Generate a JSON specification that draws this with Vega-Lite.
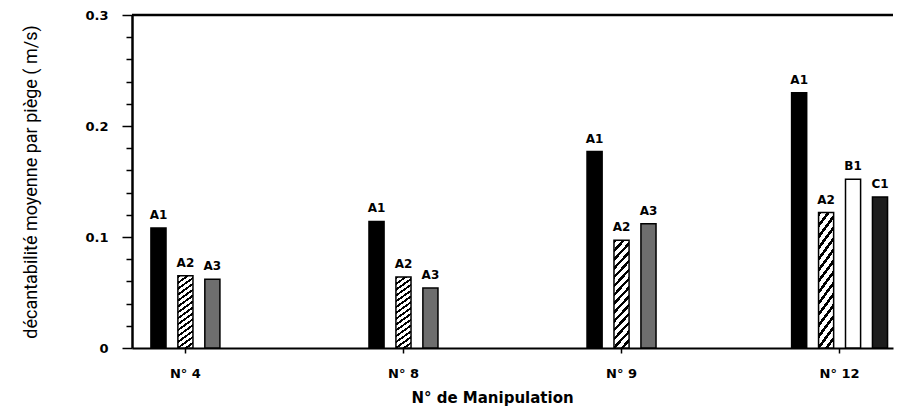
{
  "$schema": "https://vega.github.io/schema/vega-lite/v6.json",
  "width": 761,
  "height": 333,
  "autosize": "none",
  "padding": {"left": 132, "top": 15, "right": 5, "bottom": 59},
  "background": "white",
  "config": {"view": {"stroke": null}, "font": "DejaVu Sans"},
  "data": {
    "values": [
      {"manip": "N° 4", "barre": "A1", "v": 0.108},
      {"manip": "N° 4", "barre": "A2", "v": 0.065},
      {"manip": "N° 4", "barre": "A3", "v": 0.062},
      {"manip": "N° 8", "barre": "A1", "v": 0.114},
      {"manip": "N° 8", "barre": "A2", "v": 0.064},
      {"manip": "N° 8", "barre": "A3", "v": 0.054},
      {"manip": "N° 9", "barre": "A1", "v": 0.177},
      {"manip": "N° 9", "barre": "A2", "v": 0.097},
      {"manip": "N° 9", "barre": "A3", "v": 0.112},
      {"manip": "N° 12", "barre": "A1", "v": 0.23},
      {"manip": "N° 12", "barre": "A2", "v": 0.122},
      {"manip": "N° 12", "barre": "B1", "v": 0.152},
      {"manip": "N° 12", "barre": "C1", "v": 0.136}
    ]
  },
  "encoding": {
    "y": {
      "field": "v", "type": "quantitative",
      "scale": {"domain": [0, 0.3], "nice": false, "zero": true},
      "axis": {
        "values": [0, 0.02, 0.04, 0.06, 0.08, 0.1, 0.12, 0.14, 0.16, 0.18, 0.2, 0.22, 0.24, 0.26, 0.28, 0.3],
        "labelExpr": "abs(datum.value*10 - round(datum.value*10)) < 0.001 ? (datum.value == 0 ? '0' : format(datum.value, '.1f')) : ''",
        "tickSize": {"condition": {"test": "abs(datum.value*10 - round(datum.value*10)) < 0.001", "value": 10}, "value": 6},
        "tickWidth": 1.5, "tickColor": "black",
        "domainWidth": 2.5, "domainColor": "black", "grid": false,
        "labelFont": "DejaVu Sans", "labelFontWeight": "bold", "labelFontSize": 13, "labelColor": "black",
        "labelPadding": 14, "labelOverlap": false,
        "title": "décantabilité moyenne par piège ( m/s)",
        "titleFont": "Roboto", "titleFontSize": 18, "titleFontWeight": "normal", "titleColor": "black", "titleLimit": 1000,
        "titlePadding": 44
      }
    }
  },
  "layer": [
    {
      "transform": [{"joinaggregate": [{"op": "count", "as": "nb"}], "groupby": ["manip"]}],
      "encoding": {
        "x": {
          "field": "manip", "type": "nominal", "sort": null,
          "scale": {"paddingInner": 0.56, "paddingOuter": 0.025},
          "axis": {
            "title": "N°  de  Manipulation",
            "titleFont": "DejaVu Sans", "titleFontSize": 15, "titleFontWeight": "bold", "titleColor": "black",
            "titleX": 360, "titleY": 54, "titleBaseline": "alphabetic", "titleAlign": "center",
            "labelAngle": 0, "labelFont": "DejaVu Sans", "labelFontSize": 13, "labelFontWeight": "bold", "labelColor": "black",
            "labelBaseline": "alphabetic", "labelPadding": 24,
            "tickSize": 5, "tickWidth": 1.5, "tickColor": "black",
            "domainWidth": 2, "domainColor": "black", "grid": false
          }
        }
      },
      "layer": [
        {
          "transform": [{"filter": "datum.nb == 3"}],
          "encoding": {"xOffset": {"field": "barre", "type": "nominal", "scale": {"paddingInner": 0.44, "paddingOuter": 0.5}}},
          "layer": [
            {
              "mark": {"type": "bar", "stroke": "black", "strokeWidth": 1.5},
              "encoding": {
                "fill": {
                  "condition": [
                    {"test": "datum.barre == 'A1'", "value": "black"},
                    {"test": "datum.barre == 'A2'", "value": {"gradient": "linear", "x1": 0, "y1": 0, "x2": 0.17, "y2": 1.12, "stops": [
                      {"offset": 0, "color": "black"}, {"offset": 0.0286, "color": "black"}, {"offset": 0.0286, "color": "white"}, {"offset": 0.0714, "color": "white"},
                      {"offset": 0.0714, "color": "black"}, {"offset": 0.1, "color": "black"}, {"offset": 0.1, "color": "white"}, {"offset": 0.1429, "color": "white"},
                      {"offset": 0.1429, "color": "black"}, {"offset": 0.1714, "color": "black"}, {"offset": 0.1714, "color": "white"}, {"offset": 0.2143, "color": "white"},
                      {"offset": 0.2143, "color": "black"}, {"offset": 0.2429, "color": "black"}, {"offset": 0.2429, "color": "white"}, {"offset": 0.2857, "color": "white"},
                      {"offset": 0.2857, "color": "black"}, {"offset": 0.3143, "color": "black"}, {"offset": 0.3143, "color": "white"}, {"offset": 0.3571, "color": "white"},
                      {"offset": 0.3571, "color": "black"}, {"offset": 0.3857, "color": "black"}, {"offset": 0.3857, "color": "white"}, {"offset": 0.4286, "color": "white"},
                      {"offset": 0.4286, "color": "black"}, {"offset": 0.4571, "color": "black"}, {"offset": 0.4571, "color": "white"}, {"offset": 0.5, "color": "white"},
                      {"offset": 0.5, "color": "black"}, {"offset": 0.5286, "color": "black"}, {"offset": 0.5286, "color": "white"}, {"offset": 0.5714, "color": "white"},
                      {"offset": 0.5714, "color": "black"}, {"offset": 0.6, "color": "black"}, {"offset": 0.6, "color": "white"}, {"offset": 0.6429, "color": "white"},
                      {"offset": 0.6429, "color": "black"}, {"offset": 0.6714, "color": "black"}, {"offset": 0.6714, "color": "white"}, {"offset": 0.7143, "color": "white"},
                      {"offset": 0.7143, "color": "black"}, {"offset": 0.7429, "color": "black"}, {"offset": 0.7429, "color": "white"}, {"offset": 0.7857, "color": "white"},
                      {"offset": 0.7857, "color": "black"}, {"offset": 0.8143, "color": "black"}, {"offset": 0.8143, "color": "white"}, {"offset": 0.8571, "color": "white"},
                      {"offset": 0.8571, "color": "black"}, {"offset": 0.8857, "color": "black"}, {"offset": 0.8857, "color": "white"}, {"offset": 0.9286, "color": "white"},
                      {"offset": 0.9286, "color": "black"}, {"offset": 0.9571, "color": "black"}, {"offset": 0.9571, "color": "white"}, {"offset": 1, "color": "white"}
                    ]}},
                    {"test": "datum.barre == 'A3'", "value": "#6e6e6e"},
                    {"test": "datum.barre == 'B1'", "value": "white"}
                  ],
                  "value": "#1e1e1e"
                }
              }
            },
            {
              "mark": {"type": "text", "baseline": "alphabetic", "align": "center", "dy": -9, "font": "DejaVu Sans", "fontWeight": "bold", "fontSize": 12, "color": "black"},
              "encoding": {"text": {"field": "barre"}}
            }
          ]
        },
        {
          "transform": [{"filter": "datum.nb == 4"}],
          "encoding": {"xOffset": {"field": "barre", "type": "nominal", "scale": {"paddingInner": 0.44, "paddingOuter": 0}}},
          "layer": [
            {
              "mark": {"type": "bar", "stroke": "black", "strokeWidth": 1.5},
              "encoding": {
                "fill": {
                  "condition": [
                    {"test": "datum.barre == 'A1'", "value": "black"},
                    {"test": "datum.barre == 'A2'", "value": {"gradient": "linear", "x1": 0, "y1": 0, "x2": 0.17, "y2": 1.12, "stops": [
                      {"offset": 0, "color": "black"}, {"offset": 0.0286, "color": "black"}, {"offset": 0.0286, "color": "white"}, {"offset": 0.0714, "color": "white"},
                      {"offset": 0.0714, "color": "black"}, {"offset": 0.1, "color": "black"}, {"offset": 0.1, "color": "white"}, {"offset": 0.1429, "color": "white"},
                      {"offset": 0.1429, "color": "black"}, {"offset": 0.1714, "color": "black"}, {"offset": 0.1714, "color": "white"}, {"offset": 0.2143, "color": "white"},
                      {"offset": 0.2143, "color": "black"}, {"offset": 0.2429, "color": "black"}, {"offset": 0.2429, "color": "white"}, {"offset": 0.2857, "color": "white"},
                      {"offset": 0.2857, "color": "black"}, {"offset": 0.3143, "color": "black"}, {"offset": 0.3143, "color": "white"}, {"offset": 0.3571, "color": "white"},
                      {"offset": 0.3571, "color": "black"}, {"offset": 0.3857, "color": "black"}, {"offset": 0.3857, "color": "white"}, {"offset": 0.4286, "color": "white"},
                      {"offset": 0.4286, "color": "black"}, {"offset": 0.4571, "color": "black"}, {"offset": 0.4571, "color": "white"}, {"offset": 0.5, "color": "white"},
                      {"offset": 0.5, "color": "black"}, {"offset": 0.5286, "color": "black"}, {"offset": 0.5286, "color": "white"}, {"offset": 0.5714, "color": "white"},
                      {"offset": 0.5714, "color": "black"}, {"offset": 0.6, "color": "black"}, {"offset": 0.6, "color": "white"}, {"offset": 0.6429, "color": "white"},
                      {"offset": 0.6429, "color": "black"}, {"offset": 0.6714, "color": "black"}, {"offset": 0.6714, "color": "white"}, {"offset": 0.7143, "color": "white"},
                      {"offset": 0.7143, "color": "black"}, {"offset": 0.7429, "color": "black"}, {"offset": 0.7429, "color": "white"}, {"offset": 0.7857, "color": "white"},
                      {"offset": 0.7857, "color": "black"}, {"offset": 0.8143, "color": "black"}, {"offset": 0.8143, "color": "white"}, {"offset": 0.8571, "color": "white"},
                      {"offset": 0.8571, "color": "black"}, {"offset": 0.8857, "color": "black"}, {"offset": 0.8857, "color": "white"}, {"offset": 0.9286, "color": "white"},
                      {"offset": 0.9286, "color": "black"}, {"offset": 0.9571, "color": "black"}, {"offset": 0.9571, "color": "white"}, {"offset": 1, "color": "white"}
                    ]}},
                    {"test": "datum.barre == 'A3'", "value": "#6e6e6e"},
                    {"test": "datum.barre == 'B1'", "value": "white"}
                  ],
                  "value": "#1e1e1e"
                }
              }
            },
            {
              "mark": {"type": "text", "baseline": "alphabetic", "align": "center", "dy": -9, "font": "DejaVu Sans", "fontWeight": "bold", "fontSize": 12, "color": "black"},
              "encoding": {"text": {"field": "barre"}}
            }
          ]
        }
      ],
      "resolve": {"scale": {"xOffset": "independent"}}
    },
    {
      "data": {"values": [{"v": 0.3}]},
      "mark": {"type": "rule", "strokeWidth": 2.5, "color": "black"},
      "encoding": {}
    }
  ]
}
